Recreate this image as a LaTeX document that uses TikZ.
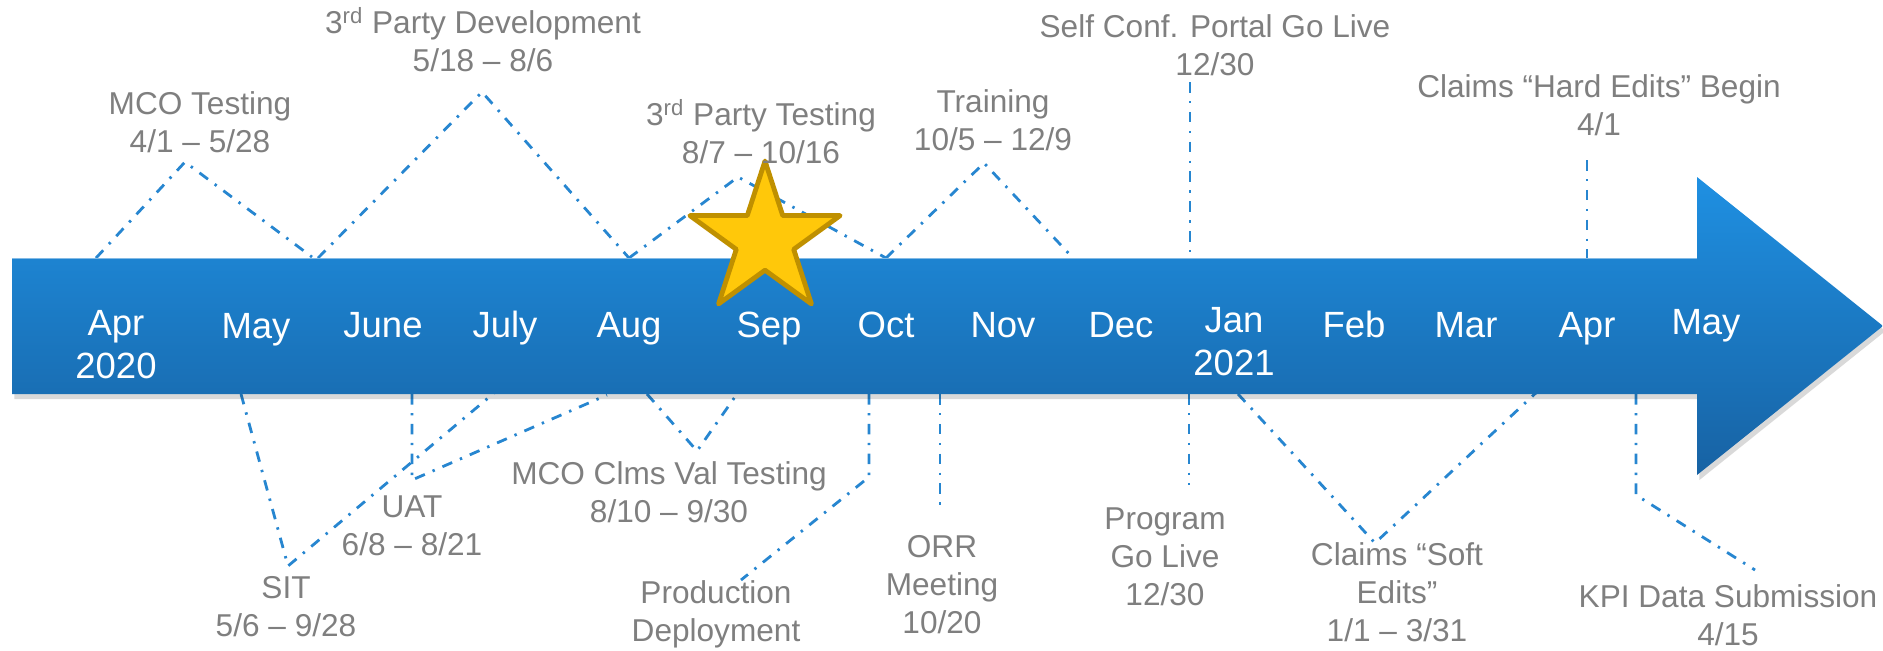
\documentclass[tikz,border=0pt]{standalone}
\usepackage{fontspec}
\setmainfont{Liberation Sans}
\usetikzlibrary{shapes.geometric,shadows}
\definecolor{lblgray}{HTML}{7F7F7F}
\definecolor{conblue}{HTML}{2786D0}
\definecolor{arrtop}{HTML}{1F90E2}
\definecolor{arrbot}{HTML}{1762A3}
\definecolor{starfill}{HTML}{FFC80A}
\definecolor{stardraw}{HTML}{BF9000}
\begin{document}
\begin{tikzpicture}[x=0.5pt,y=-0.5pt,
  lbl/.style={font=\fontsize{15.8}{19}\selectfont, text=lblgray, align=center, inner sep=0pt},
  mon/.style={font=\fontsize{18.25}{21.5}\selectfont, text=white, align=center, inner sep=0pt},
  conn/.style={draw=conblue, line width=1.4pt, dash pattern=on 5.3pt off 4.2pt on 1.2pt off 4.2pt},
  arrowbody/.style={top color=arrtop, bottom color=arrbot, drop shadow={shadow xshift=1.2pt, shadow yshift=-2.5pt, opacity=0.15, fill=black}},
  starstyle/.style={star, star points=5, star point ratio=2.618, minimum size=79pt, inner sep=0pt, fill=starfill, draw=stardraw, line width=2.4pt, line join=round}
]
\useasboundingbox (0,0) rectangle (1883,650);

% ---- connector points ----
% top
\coordinate (mcoA) at (96,258);  \coordinate (mcoP) at (185,162);  \coordinate (mcoB) at (312,257);
\coordinate (devA) at (318,258); \coordinate (devP) at (482,92);   \coordinate (devB) at (629,258);
\coordinate (tstA) at (629,258); \coordinate (tstP) at (738,177);  \coordinate (tstB) at (886,258);
\coordinate (trnA) at (886,258); \coordinate (trnP) at (984,163);  \coordinate (trnB) at (1073,258);
\coordinate (scpP) at (1190,82); \coordinate (scpA) at (1190,258);
\coordinate (hrdP) at (1587,160); \coordinate (hrdA) at (1587,258);
% bottom
\coordinate (sitA) at (241,394); \coordinate (sitP) at (288,566); \coordinate (sitB) at (506,383);
\coordinate (uatA) at (412,394); \coordinate (uatP) at (412,480); \coordinate (uatB) at (607,395);
\coordinate (valA) at (647,394); \coordinate (valP) at (697,451); \coordinate (valB) at (737,394);
\coordinate (prdA) at (869,394); \coordinate (prdK) at (869,477); \coordinate (prdP) at (741,580);
\coordinate (orrA) at (940,394); \coordinate (orrP) at (940,505);
\coordinate (pglA) at (1189,394); \coordinate (pglP) at (1189,485);
\coordinate (sftA) at (1238,394); \coordinate (sftP) at (1375,543); \coordinate (sftB) at (1539,390);
\coordinate (kpiA) at (1636,394); \coordinate (kpiK) at (1636,495); \coordinate (kpiP) at (1755,570);

% ---- connectors (behind the arrow) ----
\draw[conn] (mcoA) -- (mcoP) -- (mcoB);
\draw[conn] (devA) -- (devP) -- (devB);
\draw[conn] (tstA) -- (tstP) -- (tstB);
\draw[conn] (trnA) -- (trnP) -- (trnB);
\draw[conn] (scpP) -- (scpA);
\draw[conn] (hrdP) -- (hrdA);
\draw[conn] (sitA) -- (sitP) -- (sitB);
\draw[conn] (uatA) -- (uatP) -- (uatB);
\draw[conn] (valA) -- (valP) -- (valB);
\draw[conn] (prdA) -- (prdK) -- (prdP);
\draw[conn] (orrA) -- (orrP);
\draw[conn] (pglA) -- (pglP);
\draw[conn] (sftA) -- (sftP) -- (sftB);
\draw[conn] (kpiA) -- (kpiK) -- (kpiP);

% ---- timeline arrow ----
\path[arrowbody] (12,258) -- (1697,258) -- (1697,177) -- (1883,326) -- (1697,475) -- (1697,394) -- (12,394) -- cycle;
\draw[white, opacity=0.45, line width=0.6pt] (12,258.5) -- (1697,258.5);

% ---- months ----
\node[mon] (m1)  at (116,348)  {\strut Apr\\\strut 2020};
\node[mon] (m2)  at (256,330)  {\strut May};
\node[mon] (m3)  at (383,329)  {\strut June};
\node[mon] (m4)  at (505,329)  {\strut July};
\node[mon] (m5)  at (629,329)  {\strut Aug};
\node[mon] (m6)  at (769,329)  {\strut Sep};
\node[mon] (m7)  at (886,329)  {\strut Oct};
\node[mon] (m8)  at (1003,329) {\strut Nov};
\node[mon] (m9)  at (1121,329) {\strut Dec};
\node[mon] (m10) at (1234,345) {\strut Jan\\\strut 2021};
\node[mon] (m11) at (1354,329) {\strut Feb};
\node[mon] (m12) at (1466,329) {\strut Mar};
\node[mon] (m13) at (1587,329) {\strut Apr};
\node[mon] (m14) at (1706,326) {\strut May};

% ---- star ----
\node[starstyle] (star) at (765,240) {};

% ---- labels ----
\node[lbl] (mco) at (200,126)  {\strut MCO Testing\\\strut 4/1 – 5/28};
\node[lbl] (dev) at (483,45)   {\strut 3\textsuperscript{rd} Party Development\\\strut 5/18 – 8/6};
\node[lbl] (tst) at (761,137)  {\strut 3\textsuperscript{rd} Party Testing\\\strut 8/7 – 10/16};
\node[lbl] (trn) at (993,124)  {\strut Training\\\strut 10/5 – 12/9};
\node[lbl] (scp) at (1215,49)  {\strut Self Conf. Portal Go Live\\\strut 12/30};
\node[lbl] (hrd) at (1599,109) {\strut Claims “Hard Edits” Begin\\\strut 4/1};
\node[lbl] (sit) at (286,610)  {\strut SIT\\\strut 5/6 – 9/28};
\node[lbl] (uat) at (412,529)  {\strut UAT\\\strut 6/8 – 8/21};
\node[lbl] (val) at (669,496)  {\strut MCO Clms Val Testing\\\strut 8/10 – 9/30};
\node[lbl] (prd) at (716,615)  {\strut Production\\\strut Deployment};
\node[lbl] (orr) at (942,588)  {\strut ORR\\\strut Meeting\\\strut 10/20};
\node[lbl] (pgl) at (1165,560) {\strut Program\\\strut Go Live\\\strut 12/30};
\node[lbl] (sft) at (1397,596) {\strut Claims “Soft\\\strut Edits”\\\strut 1/1 – 3/31};
\node[lbl] (kpi) at (1728,619) {\strut KPI Data Submission\\\strut 4/15};
\end{tikzpicture}
\end{document}
